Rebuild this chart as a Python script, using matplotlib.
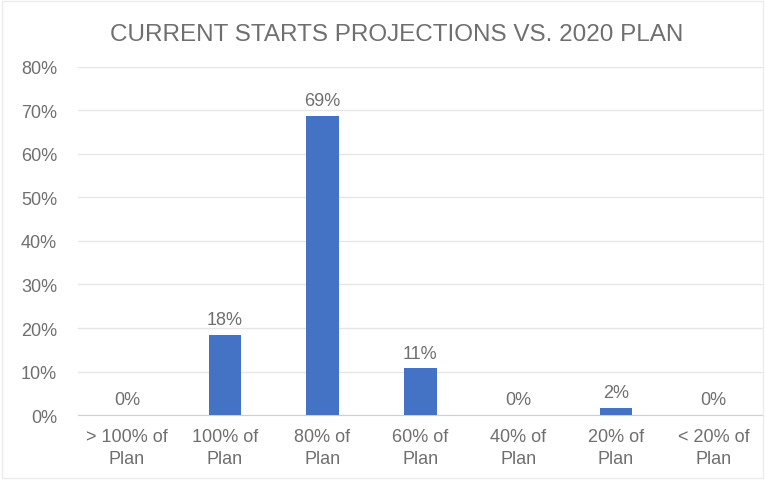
import matplotlib.pyplot as plt
from matplotlib.patches import Rectangle

# data
categories = ["> 100% of\nPlan", "100% of\nPlan", "80% of\nPlan", "60% of\nPlan",
              "40% of\nPlan", "20% of\nPlan", "< 20% of\nPlan"]
shares = [0.0, 18.3, 68.6, 10.7, 0.0, 1.6, 0.0]
bar_labels = ["0%", "18%", "69%", "11%", "0%", "2%", "0%"]
y_ticks = [0, 10, 20, 30, 40, 50, 60, 70, 80]

plt.rcParams["font.family"] = ["Liberation Sans", "DejaVu Sans"]
grey = "#6f6f6f"

fig = plt.figure(figsize=(7.65, 4.81), dpi=100)
# faint chart-area frame
fig.patches.append(Rectangle((0.003, 0.005), 0.994, 0.99, transform=fig.transFigure,
                             fill=False, edgecolor="#ececec", linewidth=1))
ax = fig.add_axes([0.102, 0.135, 0.895, 0.724])

x = range(len(categories))
ax.bar(x, shares, width=0.33, color="#4472C4", zorder=3)
for i, (v, lab) in enumerate(zip(shares, bar_labels)):
    ax.text(i, v + 1.6, lab, ha="center", va="bottom", fontsize=13, color=grey)

ax.set_xlim(-0.5, len(categories) - 0.5)
ax.set_ylim(0, 80)
ax.set_yticks(y_ticks)
ax.set_yticklabels([f"{t}%" for t in y_ticks])
ax.set_xticks(list(x))
ax.set_xticklabels(categories, linespacing=1.45)
ax.tick_params(axis="both", length=0, labelsize=13, labelcolor=grey)
ax.tick_params(axis="y", pad=15)
ax.tick_params(axis="x", pad=9)

ax.grid(axis="y", color="#e6e6e6", linewidth=1, zorder=0)
for s in ["top", "right", "left"]:
    ax.spines[s].set_visible(False)
ax.spines["bottom"].set_color("#d0d0d0")

fig.text(0.518, 0.927, "CURRENT STARTS PROJECTIONS VS. 2020 PLAN",
         ha="center", va="center", fontsize=17.5, color=grey)

plt.savefig("out.png", dpi=100)
